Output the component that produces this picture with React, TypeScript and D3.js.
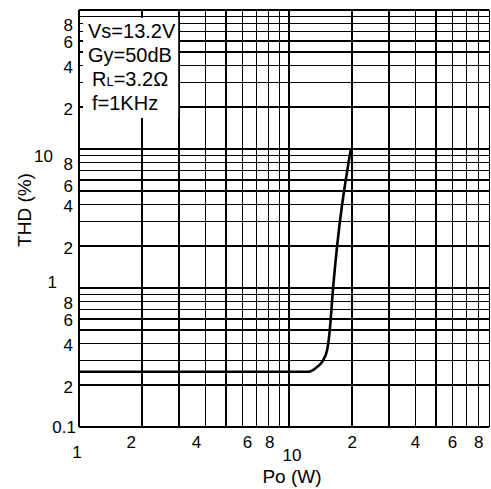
import React from 'react';
import * as d3 from 'd3';

// ---- data ----
const X_GRID = [1, 2, 3, 4, 5, 6, 7, 8, 9, 10, 20, 30, 40, 50, 60, 70, 80, 90];
const Y_GRID = [
  0.1, 0.2, 0.3, 0.4, 0.5, 0.6, 0.7, 0.8, 0.9,
  1, 2, 3, 4, 5, 6, 7, 8, 9,
  10, 20, 30, 40, 50, 60, 70, 80, 90, 100,
];
const X_TICK_VALUES = [1, 2, 4, 6, 8, 10, 20, 40, 60, 80];
const X_TICK_LABELS = ['1', '2', '4', '6', '8', '10', '2', '4', '6', '8'];
const Y_TICK_VALUES = [80, 60, 40, 20, 10, 8, 6, 4, 2, 1, 0.8, 0.6, 0.4, 0.2, 0.1];
const Y_TICK_LABELS = ['8', '6', '4', '2', '10', '8', '6', '4', '2', '1', '8', '6', '4', '2', '0.1'];

const PO_W = [1, 10.7, 12.4, 13.6, 14.5, 15.2, 15.6, 16.2, 19.7];
const THD_PCT = [0.25, 0.25, 0.25, 0.27, 0.3, 0.36, 0.48, 0.98, 10];

const CONDITIONS = ['Vs=13.2V', 'Gy=50dB', 'RL', 'f=1KHz'];

// ---- layout ----
const W = 491;
const H = 489;
const FONT = '"Liberation Sans", Arial, Helvetica, sans-serif';

const x = d3.scaleLog().domain([1, 90]).range([79, 79 + 210 * Math.log10(90)]);
const y = d3.scaleLog().domain([0.1, 100]).range([427, 10]);

const xLabelNudge: Record<number, [number, number]> = {
  1: [-2, 10],
  2: [-11, 0],
  4: [-9, 0],
  6: [5, 0],
  8: [1, 0],
  10: [3, 13],
};
const yLabelNudge: Record<number, [number, number]> = {
  10: [-20, 5],
  1: [-16, -8],
  0.1: [3, -2],
};

export default function App() {
  const line = d3
    .line<number>()
    .x((_, i) => x(PO_W[i]))
    .y((d) => y(d))
    .curve(d3.curveMonotoneX);
  const path = line(THD_PCT) || '';

  const [x0, x1] = x.range();
  const [yB, yT] = y.range();
  const boxL = x0 + 1;
  const boxR = x(3) - 1;
  const boxT = y(90) + 1.5;
  const boxB = 118;

  return (
    <svg
      width={W}
      height={H}
      viewBox={`0 0 ${W} ${H}`}
      style={{ position: 'absolute', left: 0, top: 0, background: '#fff' }}
      fontFamily={FONT}
    >
      <rect x={0} y={0} width={W} height={H} fill="#fff" />
      {/* grid */}
      <g stroke="#000" strokeWidth={1.6} shapeRendering="crispEdges">
        {X_GRID.map((v) => (
          <line key={'gx' + v} x1={x(v)} x2={x(v)} y1={yT} y2={yB} />
        ))}
        {Y_GRID.map((v) => (
          <line key={'gy' + v} x1={x0} x2={x1} y1={y(v)} y2={y(v)} />
        ))}
      </g>
      {/* condition box */}
      <rect x={boxL} y={boxT} width={boxR - boxL} height={boxB - boxT} fill="#fff" />
      <g stroke="#000" strokeWidth={1.6} shapeRendering="crispEdges">
        {Y_GRID.filter((v) => y(v) > boxT && y(v) < boxB).map((v) => (
          <line key={'tk' + v} x1={x0} x2={x0 + 4} y1={y(v)} y2={y(v)} />
        ))}
      </g>
      <g fontSize={20} fill="#000">
        <text x={88} y={38}>{CONDITIONS[0]}</text>
        <text x={88} y={62}>{CONDITIONS[1]}</text>
        <text x={92} y={86}>
          R<tspan fontSize={13}>L</tspan>=3.2Ω
        </text>
        <text x={92} y={110}>{CONDITIONS[3]}</text>
      </g>
      {/* curve */}
      <path d={path} fill="none" stroke="#000" strokeWidth={2.6} strokeLinejoin="round" />
      {/* y tick labels */}
      <g fontSize={17} fill="#000" textAnchor="end">
        {Y_TICK_VALUES.map((v, i) => {
          let n: [number, number] = yLabelNudge[v] || [0, 0];
          if (i === 6) n = [0, 5];
          return (
            <text key={'yl' + i} x={73 + n[0]} y={y(v) + 7.5 + n[1]}>
              {Y_TICK_LABELS[i]}
            </text>
          );
        })}
      </g>
      {/* x tick labels */}
      <g fontSize={17} fill="#000" textAnchor="middle">
        {X_TICK_VALUES.map((v, i) => {
          const n = i < 6 && xLabelNudge[v] ? xLabelNudge[v] : [0, 0];
          return (
            <text key={'xl' + i} x={x(v) + n[0]} y={448 + n[1]}>
              {X_TICK_LABELS[i]}
            </text>
          );
        })}
      </g>
      {/* axis titles */}
      <text x={292} y={483} fontSize={19} textAnchor="middle" fill="#000">
        Po (W)
      </text>
      <text
        transform={`translate(31,210) rotate(-90)`}
        fontSize={19}
        textAnchor="middle"
        fill="#000"
      >
        THD (%)
      </text>
    </svg>
  );
}
